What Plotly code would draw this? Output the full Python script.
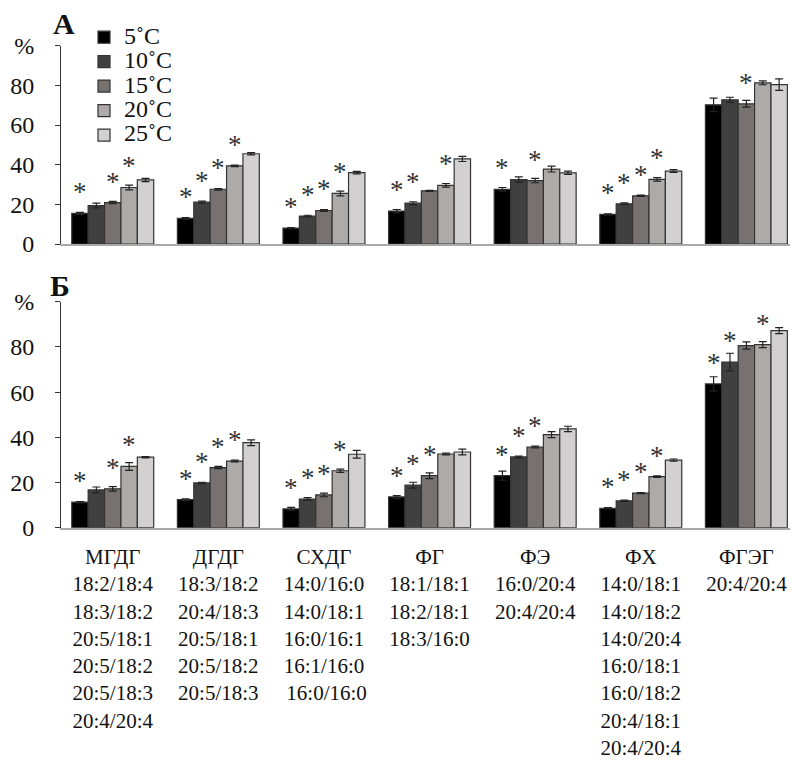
import plotly.graph_objects as go

categories = ["МГДГ", "ДГДГ", "СХДГ", "ФГ", "ФЭ", "ФХ", "ФГЭГ"]
species = [
    ["18:2/18:4", "18:3/18:2", "20:5/18:1", "20:5/18:2", "20:5/18:3", "20:4/20:4"],
    ["18:3/18:2", "20:4/18:3", "20:5/18:1", "20:5/18:2", "20:5/18:3"],
    ["14:0/16:0", "14:0/18:1", "16:0/16:1", "16:1/16:0", "\u00a016:0/16:0"],
    ["18:1/18:1", "18:2/18:1", "18:3/16:0"],
    ["16:0/20:4", "20:4/20:4"],
    ["14:0/18:1", "14:0/18:2", "14:0/20:4", "16:0/18:1", "16:0/18:2", "20:4/18:1", "20:4/20:4"],
    ["20:4/20:4"],
]
temps = ["5˚C", "10˚C", "15˚C", "20˚C", "25˚C"]
colors = ["#000000", "#404040", "#77726f", "#aeaaa8", "#d2d0d1"]

# Panel A values (mean, error) per temperature, across categories
A_vals = [
    [15.4, 12.9, 8.0, 16.6, 27.6, 14.9, 70.2],
    [19.4, 21.1, 14.1, 20.6, 32.5, 20.3, 72.7],
    [20.9, 27.6, 16.9, 26.8, 32.0, 24.3, 70.7],
    [28.5, 39.4, 25.5, 29.6, 37.8, 32.6, 81.3],
    [32.3, 45.5, 36.0, 42.9, 35.9, 36.8, 80.4],
]
A_err = [
    [0.5, 0.4, 0.3, 0.8, 0.9, 0.3, 3.4],
    [1.2, 0.5, 0.4, 0.7, 1.3, 0.4, 1.3],
    [0.6, 0.4, 0.5, 0.3, 1.1, 0.3, 1.7],
    [1.2, 0.4, 1.2, 0.9, 1.5, 0.9, 1.0],
    [0.8, 0.6, 0.6, 1.3, 0.8, 0.7, 2.9],
]
A_sig = [
    [1, 1, 1, 1, 1, 1, 0],
    [0, 1, 1, 1, 0, 1, 0],
    [1, 1, 1, 0, 1, 1, 1],
    [1, 1, 1, 1, 0, 1, 0],
    [0, 0, 0, 0, 0, 0, 0],
]

# Panel Б values
B_vals = [
    [11.3, 12.4, 8.3, 13.6, 23.0, 8.6, 63.6],
    [16.7, 19.8, 12.7, 18.8, 31.3, 11.9, 73.3],
    [17.2, 26.6, 14.5, 23.0, 35.7, 15.3, 80.6],
    [27.1, 29.5, 25.2, 32.6, 41.2, 22.6, 81.0],
    [31.2, 37.6, 32.5, 33.5, 43.7, 29.9, 87.2],
]
B_err = [
    [0.3, 0.4, 0.7, 0.6, 2.0, 0.3, 3.2],
    [1.3, 0.3, 0.6, 1.3, 0.4, 0.3, 3.9],
    [1.0, 0.5, 0.8, 1.3, 0.4, 0.2, 1.6],
    [1.7, 0.4, 0.7, 0.4, 1.3, 0.3, 1.3],
    [0.3, 1.3, 1.7, 1.3, 1.2, 0.5, 1.3],
]
B_sig = [
    [1, 1, 1, 1, 1, 1, 1],
    [0, 1, 1, 1, 1, 1, 1],
    [1, 1, 1, 1, 1, 1, 0],
    [1, 1, 1, 0, 0, 1, 1],
    [0, 0, 0, 0, 0, 0, 0],
]

FONT = '"Liberation Serif", "Times New Roman", Times, serif'
W, H = 792, 760
BARGAP = 0.224
n_t = len(temps)
bw = (1 - BARGAP) / n_t
xs = list(range(len(categories)))

fig = go.Figure()
for panel, (vals, errs, sig, xa, ya) in enumerate([
        (A_vals, A_err, A_sig, "x", "y"),
        (B_vals, B_err, B_sig, "x2", "y2")]):
    for k in range(n_t):
        fig.add_trace(go.Bar(
            x=xs, y=vals[k], xaxis=xa, yaxis=ya,
            name=f'<span style="font-size:24px">{temps[k]}</span>',
            legendgroup=temps[k], showlegend=(panel == 0),
            marker=dict(color=colors[k], line=dict(color="#333333", width=1.2)),
            error_y=dict(type="data", array=errs[k], color="#222222",
                         thickness=1.2, width=4),
        ))
        for i in xs:
            if sig[k][i]:
                fig.add_annotation(
                    x=i + (k - (n_t - 1) / 2) * bw, y=vals[k][i],
                    xref=xa, yref=ya, text="*", showarrow=False,
                    yanchor="middle", yshift=21,
                    font=dict(family=FONT, size=27, color="#333333"))

ticktext = ["<br>".join([c] + s) for c, s in zip(categories, species)]

px_top = lambda p: 1 - p / H
xrange_ = [-0.49, 6.413]
common_x = dict(range=xrange_, tickvals=xs, showline=True, linecolor="#a8a8a8",
                linewidth=2, ticks="", showgrid=False, zeroline=False,
                fixedrange=True, automargin=False)
common_y = dict(range=[0, 100], tickvals=[0, 20, 40, 60, 80, 100],
                ticktext=["0", "20", "40", "60", "80", "%"],
                showline=True, linecolor="#333333", linewidth=1, ticks="outside",
                ticklen=5, tickcolor="#333333", showgrid=False, zeroline=False,
                tickfont=dict(family=FONT, size=24, color="#111111"),
                ticklabelstandoff=16, automargin=False)

fig.update_layout(
    template="none",
    width=W, height=H,
    margin=dict(l=61, r=2, t=0, b=0, autoexpand=False),
    paper_bgcolor="white", plot_bgcolor="white",
    barmode="group", bargap=BARGAP, bargroupgap=0,
    font=dict(family=FONT, color="#111111"),
    xaxis=dict(domain=[0, 1], anchor="y", showticklabels=False, **common_x),
    xaxis2=dict(domain=[0, 1], anchor="y2", showticklabels=True, ticktext=ticktext,
                tickfont=dict(family=FONT, size=21, color="#111111"),
                ticklabelstandoff=9, **common_x),
    yaxis=dict(domain=[px_top(244), px_top(45.7)], anchor="x", **common_y),
    yaxis2=dict(domain=[px_top(527.7), px_top(301.7)], anchor="x2", **common_y),
    legend=dict(x=(84 - 61) / (W - 63), y=px_top(20), xanchor="left", yanchor="top",
                font=dict(family=FONT, size=16.5, color="#111111"),
                bgcolor="rgba(0,0,0,0)", borderwidth=0, traceorder="normal",
                itemwidth=30, tracegroupgap=0),
    showlegend=True,
)

fig.add_annotation(text="<b>А</b>", xref="paper", yref="paper",
                   x=(64 - 61) / (W - 63), y=px_top(23), xanchor="center", yanchor="middle",
                   showarrow=False, font=dict(family=FONT, size=30, color="#111111"))
fig.add_annotation(text="<b>Б</b>", xref="paper", yref="paper",
                   x=(60 - 61) / (W - 63), y=px_top(286), xanchor="center", yanchor="middle",
                   showarrow=False, font=dict(family=FONT, size=30, color="#111111"))

fig.write_html("out.html")
